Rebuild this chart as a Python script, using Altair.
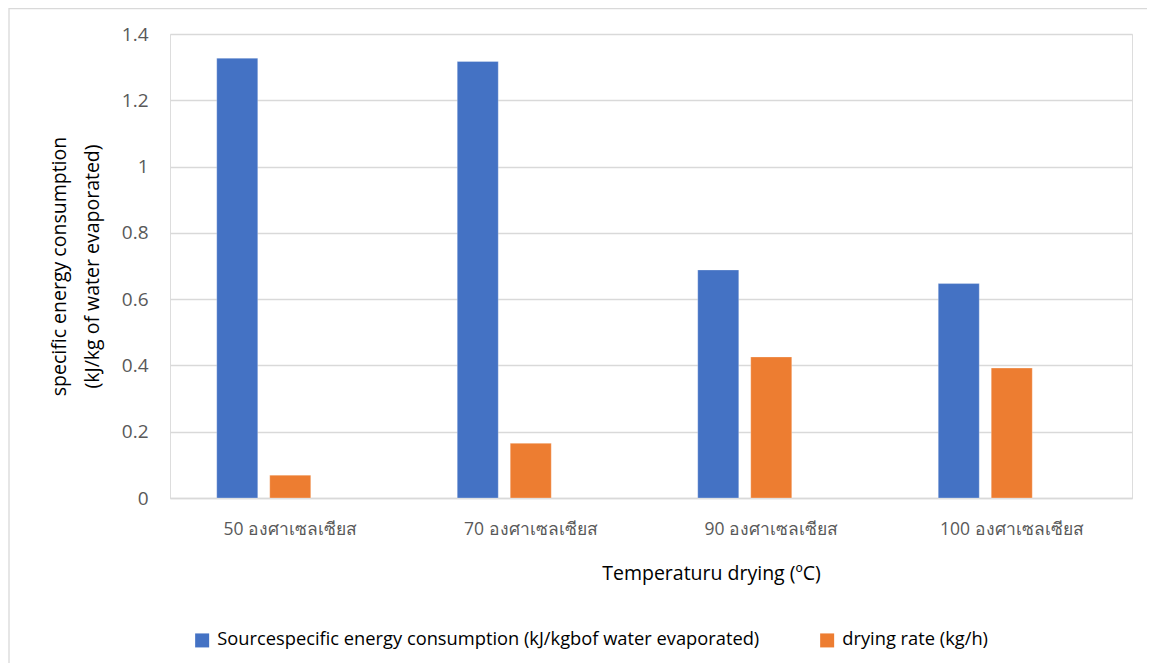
import altair as alt
import pandas as pd

categories = ["50 องศาเซลเซียส", "70 องศาเซลเซียส", "90 องศาเซลเซียส", "100 องศาเซลเซียส"]
series_names = [
    "Sourcespecific energy consumption (kJ/kgbof water evaporated)",
    "drying rate (kg/h)",
    " ",
]
energy = [1.327, 1.317, 0.688, 0.647]
drying_rate = [0.069, 0.165, 0.4255, 0.392]
y_ticks = [0, 0.2, 0.4, 0.6, 0.8, 1.0, 1.2, 1.4]
colors = ["#4472C4", "#ED7D31", "#A5A5A5"]

rows = []
for c, e, d in zip(categories, energy, drying_rate):
    rows.append({"cat": c, "series": series_names[0], "value": e})
    rows.append({"cat": c, "series": series_names[1], "value": d})
df = pd.DataFrame(rows)

FONT = "Open Sans"

bars = alt.Chart(df).mark_bar(stroke="#ffffff", strokeOpacity=0.35, strokeWidth=0.8).encode(
    x=alt.X("cat:N", sort=categories,
            scale=alt.Scale(paddingInner=0, paddingOuter=0),
            axis=alt.Axis(title="Temperaturu drying (ºC)", labelAngle=0, ticks=False,
                          domain=True, domainColor="#D9D9D9", domainWidth=1.3,
                          labelFontSize=17.5, labelColor="#595959", labelPadding=31,
                          labelFont=FONT, labelBaseline="middle",
                          titleFont=FONT, titleFontSize=19.5, titleFontWeight="normal",
                          titleColor="#000000", titleX=541, titleY=75,
                          titleAlign="center", titleBaseline="middle", grid=False)),
    xOffset=alt.XOffset("series:N", sort=series_names,
                        scale=alt.Scale(domain=series_names, paddingInner=0.226, paddingOuter=0.882)),
    y=alt.Y("value:Q", scale=alt.Scale(domain=[0, 1.4], nice=False),
            axis=alt.Axis(values=y_ticks, format="~g", ticks=False, domain=False,
                          grid=True, gridColor="#D9D9D9", gridWidth=1.3,
                          labelFontSize=19, labelColor="#595959", labelPadding=22,
                          labelFont=FONT,
                          title=["specific energy consumption", "(kJ/kg of water evaporated)"],
                          titleFont=FONT, titleFontSize=19.5, titleFontWeight="normal",
                          titleColor="#000000", titleAngle=270, titleX=-110.5, titleY=232,
                          titleAlign="center", titleBaseline="middle", titleLineHeight=33)),
    color=alt.Color("series:N", sort=series_names,
                    scale=alt.Scale(domain=series_names[:2], range=colors[:2]),
                    legend=alt.Legend(title=None, orient="none", legendX=23, legendY=597,
                                      direction="horizontal", symbolType="square",
                                      symbolSize=196, symbolStrokeWidth=0,
                                      labelFont=FONT, labelFontSize=18.3, labelColor="#000000",
                                      labelLimit=800, columnPadding=58, symbolOffset=0,
                                      labelOffset=6)),
)

border = alt.Chart(pd.DataFrame({"a": [0]})).mark_rect(
    fillOpacity=0, stroke="#D9D9D9", strokeWidth=1.3
).encode(
    x=alt.value(-161), x2=alt.value(1000), y=alt.value(-25.5), y2=alt.value(700)
)

chart = alt.layer(border, bars).properties(
    width=962, height=464,
    autosize=alt.AutoSizeParams(type="none"),
    padding={"left": 162, "top": 26, "right": 15, "bottom": 165},
).configure_view(strokeWidth=0, stroke="transparent").configure(font=FONT)

chart.save("out.html", embed_options={"renderer": "svg", "actions": False})
